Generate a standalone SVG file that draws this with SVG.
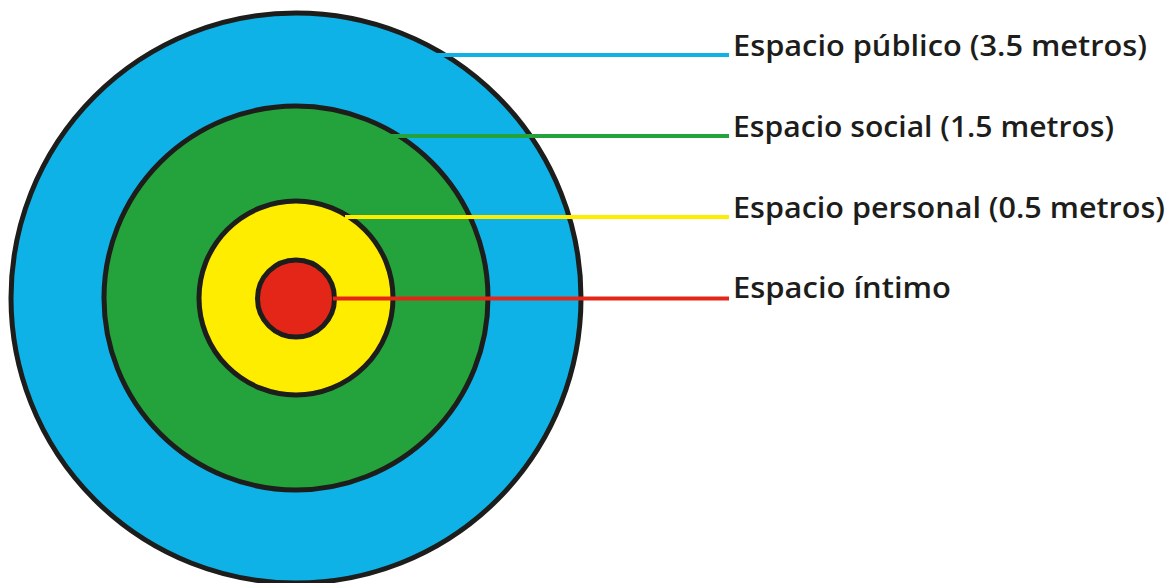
<svg xmlns="http://www.w3.org/2000/svg" width="1174" height="583" viewBox="0 0 1174 583">
<style>
.ring{stroke:#1d1d1b;stroke-width:5}
.lbl{font-family:"Open Sans","Liberation Sans",sans-serif;font-weight:600;font-size:28px;fill:#1d1d1b}
.ln{stroke-width:4;fill:none}
</style>
<rect width="1174" height="583" fill="#ffffff"/>
<g id="publico"><circle class="ring" cx="296" cy="298" r="285" fill="#0fb2e6"/></g>
<g id="social"><circle class="ring" cx="296" cy="298" r="192" fill="#24a23b"/></g>
<g id="personal"><circle class="ring" cx="296" cy="298" r="97" fill="#ffed00"/></g>
<g id="intimo"><circle class="ring" cx="296" cy="298.5" r="38.5" fill="#e42618"/></g>
<g id="connectors">
<line class="ln" x1="436" y1="55" x2="729" y2="55" stroke="#0fb2e6"/>
<line class="ln" x1="390" y1="136" x2="729" y2="136" stroke="#24a23b"/>
<line class="ln" x1="345" y1="217" x2="729" y2="217" stroke="#ffed00"/>
<line class="ln" x1="333" y1="298.5" x2="729" y2="298.5" stroke="#e42618"/>
</g>
<g id="labels">
<text class="lbl" x="733" y="56" textLength="414" lengthAdjust="spacingAndGlyphs">Espacio público (3.5 metros)</text>
<text class="lbl" x="733" y="137" textLength="381" lengthAdjust="spacingAndGlyphs">Espacio social (1.5 metros)</text>
<text class="lbl" x="733" y="218" textLength="432" lengthAdjust="spacingAndGlyphs">Espacio personal (0.5 metros)</text>
<text class="lbl" x="733" y="298" textLength="218" lengthAdjust="spacingAndGlyphs">Espacio íntimo</text>
</g>
</svg>
